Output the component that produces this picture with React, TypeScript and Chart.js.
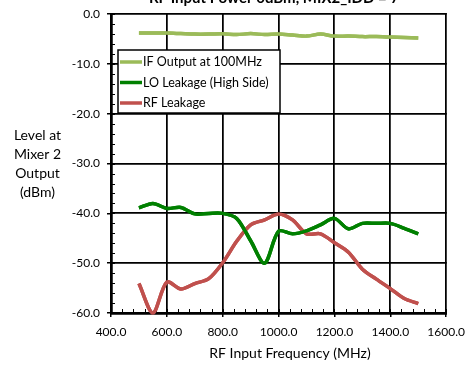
import React, { useEffect, useRef } from "react";
import { Chart, registerables } from "chart.js";

Chart.register(...registerables);

const TITLE = "RF Input Power 0dBm, MIX2_IDD = 7";
const X_TITLE = "RF Input Frequency (MHz)";
const Y_TITLE = ["Level at", "Mixer 2", "Output", "(dBm)"];

const freqs = [500, 550, 600, 650, 700, 750, 800, 850, 900, 950, 1000, 1050, 1100, 1150, 1200, 1250, 1300, 1350, 1400, 1450, 1500];
const ifOutput = [-3.8, -3.8, -3.8, -3.9, -4.0, -4.0, -3.95, -4.1, -3.9, -4.1, -4.0, -4.2, -4.4, -4.0, -4.4, -4.4, -4.5, -4.5, -4.6, -4.7, -4.8];
const loLeakage = [-38.9, -38.0, -39.0, -38.8, -40.1, -40.0, -40.0, -41.0, -45.5, -50.0, -43.6, -44.1, -43.5, -42.3, -41.0, -43.1, -42.0, -42.0, -42.0, -43.0, -44.1];
const rfLeakage = [-54.1, -60.0, -53.8, -55.2, -54.1, -53.1, -49.9, -45.6, -42.3, -41.3, -40.1, -41.3, -44.1, -44.1, -45.9, -47.8, -51.2, -53.2, -55.1, -57.1, -58.1];

const seriesNames = ["IF Output at 100MHz", "LO Leakage (High Side)", "RF Leakage"];
const seriesColors = ["#9BBB59", "#008000", "#C0504D"];
const seriesValues = [ifOutput, loLeakage, rfLeakage];

const X_MIN = 400, X_MAX = 1600, X_STEP = 200, X_MINOR = 40;
const Y_MIN = -60, Y_MAX = 0, Y_STEP = 10, Y_MINOR = 2;

const FONT = 'Lato, "Open Sans", sans-serif';

function drawGrid(chart: any) {
  const ctx = chart.ctx;
  const xs = chart.scales.x;
  const ys = chart.scales.y;
  const area = chart.chartArea;
  const top = Math.round(area.top);
  const bottom = Math.round(area.bottom);
  const left = Math.round(area.left);
  const right = Math.round(area.right);
  ctx.save();
  ctx.fillStyle = "#000000";
  for (let v = X_MIN; v <= X_MAX + 0.001; v += X_STEP) {
    const px = Math.round(xs.getPixelForValue(v));
    ctx.fillRect(px - 1, top - 1, 1.5, bottom - top + 1);
  }
  for (let v = Y_MIN; v <= Y_MAX + 0.001; v += Y_STEP) {
    const py = Math.round(ys.getPixelForValue(v));
    ctx.fillRect(left - 1, py - 1, right - left + 1.5, 1.5);
  }
  for (let v = X_MIN; v <= X_MAX + 0.001; v += X_MINOR) {
    const px = Math.round(xs.getPixelForValue(v));
    ctx.fillRect(px, bottom - 4, 1, 4);
  }
  for (let v = Y_MIN; v <= Y_MAX + 0.001; v += Y_MINOR) {
    const py = Math.round(ys.getPixelForValue(v));
    ctx.fillRect(left, py, 4, 1);
  }
  ctx.fillRect(left - 1, top - 1, 2.5, bottom - top + 2);
  ctx.fillRect(left - 1, bottom - 1, right - left + 2, 2.5);
  ctx.restore();
}

const gridPlugin = {
  id: "gridExtras",
  beforeDatasetsDraw(chart: any) {
    drawGrid(chart);
  },
  afterDraw(chart: any) {
    const ctx = chart.ctx;
    const area = chart.chartArea;
    // gridlines again, then the series lines on top of them
    drawGrid(chart);
    ctx.save();
    ctx.beginPath();
    ctx.rect(area.left - 2, area.top - 2, area.right - area.left + 4, area.bottom - area.top + 4);
    ctx.clip();
    chart.getSortedVisibleDatasetMetas().slice().reverse().forEach((meta: any) => {
      if (meta.dataset) meta.dataset.draw(ctx, area);
    });
    ctx.restore();

    ctx.save();
    const bx = 118, by = 50, bw = 162, bh = 63;
    ctx.fillStyle = "#fff";
    ctx.fillRect(bx, by, bw, bh);
    ctx.strokeStyle = "#000";
    ctx.lineWidth = 1.5;
    ctx.strokeRect(bx, by, bw, bh);
    ctx.font = `12.5px ${FONT}`;
    ctx.textBaseline = "middle";
    ctx.textAlign = "left";
    chart.data.datasets.forEach((ds: any, i: number) => {
      const cy = by + 12 + i * 20.5;
      ctx.strokeStyle = ds.borderColor;
      ctx.lineWidth = 3.5;
      ctx.beginPath();
      ctx.moveTo(bx + 2, cy);
      ctx.lineTo(bx + 24, cy);
      ctx.stroke();
      ctx.fillStyle = "#000";
      ctx.fillText(ds.label, bx + 25, cy);
    });
    ctx.fillStyle = "#000";
    ctx.font = `bold 15px ${FONT}`;
    ctx.textAlign = "center";
    ctx.textBaseline = "alphabetic";
    ctx.fillText(TITLE, 274, 3, 262);
    ctx.font = `14px ${FONT}`;
    ctx.textBaseline = "middle";
    ctx.fillText(X_TITLE, 290, 353);
    Y_TITLE.forEach((line, i) => {
      ctx.fillText(line, 37.5, 135 + i * 19.3);
    });
    ctx.restore();
  },
};

export default function App() {
  const ref = useRef<HTMLCanvasElement | null>(null);
  useEffect(() => {
    document.body.style.margin = "0";
    if (!ref.current) return;
    const chart = new Chart(ref.current, {
      type: "line",
      data: {
        datasets: seriesValues.map((vals, i) => ({
          label: seriesNames[i],
          data: freqs.map((f, j) => ({ x: f, y: vals[j] })),
          borderColor: seriesColors[i],
          backgroundColor: seriesColors[i],
          borderWidth: 3.5,
          pointRadius: 0,
          tension: 0.3,
          fill: false,
        })),
      },
      options: {
        animation: false,
        responsive: false,
        devicePixelRatio: 1,
        layout: { padding: { top: 9, right: 26, bottom: 0, left: 0 } },
        plugins: {
          legend: { display: false },
          tooltip: { enabled: false },
        },
        scales: {
          x: {
            type: "linear",
            min: X_MIN,
            max: X_MAX,
            afterFit: (s: any) => { s.height = 52; },
            ticks: {
              stepSize: X_STEP,
              color: "#000",
              padding: 8,
              font: { family: FONT, size: 12 },
              callback: (v: any) => Number(v).toFixed(1),
              maxRotation: 0,
            },
            grid: { color: "#000", lineWidth: 1.5, tickLength: 4, drawOnChartArea: false },
            border: { display: false },
          },
          y: {
            type: "linear",
            min: Y_MIN,
            max: Y_MAX,
            afterFit: (s: any) => { s.width = 111; },
            ticks: {
              stepSize: Y_STEP,
              color: "#000",
              padding: 7,
              font: { family: FONT, size: 12 },
              callback: (v: any) => Number(v).toFixed(1),
            },
            grid: { color: "#000", lineWidth: 1.5, tickLength: 4, drawOnChartArea: false },
            border: { display: false },
          },
        },
      },
      plugins: [gridPlugin],
    });
    return () => chart.destroy();
  }, []);
  return (
    <div style={{ width: 473, height: 365 }}>
      <canvas ref={ref} width={473} height={365} />
    </div>
  );
}
